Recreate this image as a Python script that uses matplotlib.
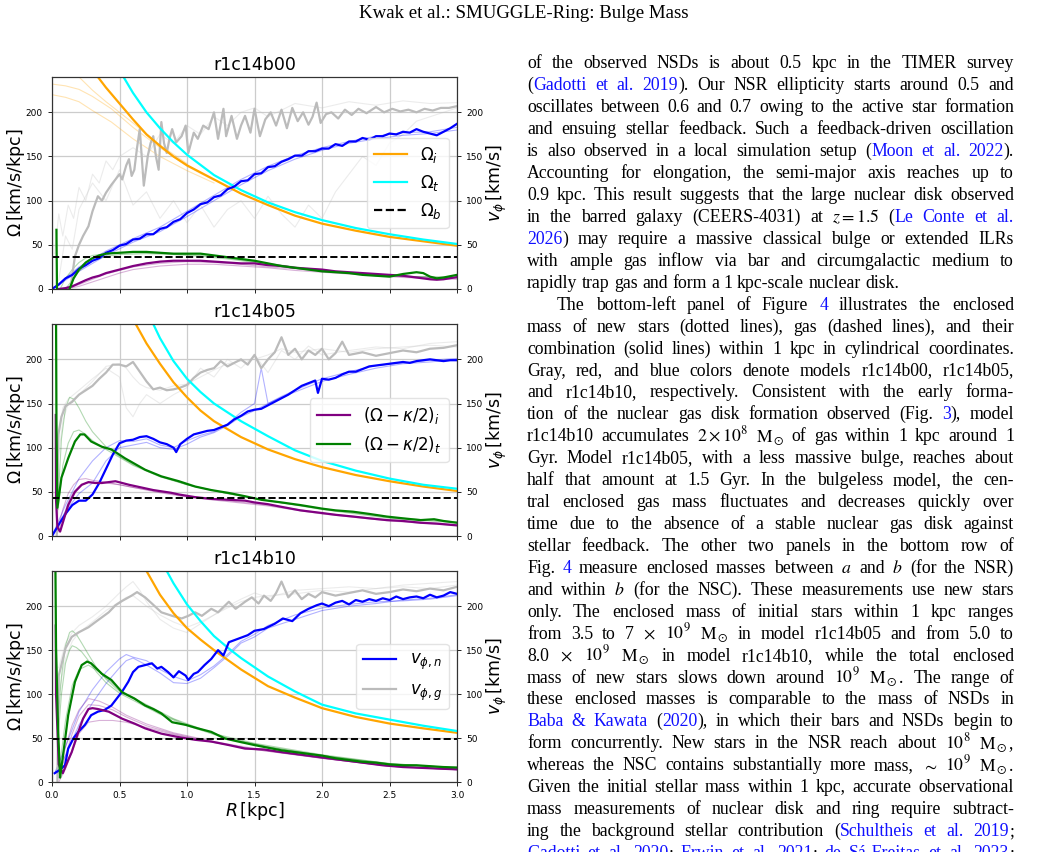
import numpy as np
import matplotlib.pyplot as plt
from matplotlib.lines import Line2D

# ---------------- panel 1 : r1c14b00 ----------------
p1_oi_r = [0.34, 0.4, 0.5, 0.6, 0.7, 0.8, 0.9, 1.0, 1.2, 1.4, 1.6, 1.8, 2.0, 2.25, 2.5, 2.75, 3.0]
p1_oi = [240, 228, 210, 192, 175, 162, 150, 140, 124, 108, 95, 83, 74, 66, 59, 54, 49]
p1_ot_r = [0.53, 0.6, 0.7, 0.8, 0.9, 1.0, 1.2, 1.4, 1.6, 1.8, 2.0, 2.25, 2.5, 2.75, 3.0]
p1_ot = [240, 222, 200, 182, 166, 152, 129, 112, 98, 87, 78, 69, 62, 56, 51]
p1_oi_f1_r = [0.0, 0.1, 0.2, 0.3, 0.44, 0.6, 0.8, 1.0, 1.2]
p1_oi_f1 = [232, 230, 226, 218, 204, 183, 160, 139, 123]
p1_oi_f2_r = [0.0, 0.1, 0.2, 0.3, 0.44, 0.6, 0.8, 1.0, 1.2]
p1_oi_f2 = [220, 217, 212, 202, 189, 170, 150, 134, 120]
p1_oi_f3_r = [0.2, 0.3, 0.4, 0.5, 0.6, 0.8, 1.0]
p1_oi_f3 = [240, 225, 212, 200, 188, 163, 142]
p1_omb = 36.5

p1_vn_r = [0.0, 0.05, 0.1, 0.15, 0.2, 0.25, 0.3, 0.35, 0.4, 0.45, 0.5, 0.55, 0.6, 0.65, 0.7,
           0.75, 0.8, 0.85, 0.9, 0.95, 1.0, 1.05, 1.1, 1.15, 1.2, 1.25, 1.3, 1.35, 1.4, 1.45,
           1.5, 1.55, 1.6, 1.65, 1.7, 1.75, 1.8, 1.85, 1.9, 1.95, 2.0, 2.05, 2.1, 2.15, 2.2,
           2.25, 2.3, 2.35, 2.4, 2.45, 2.5, 2.55, 2.6, 2.65, 2.7, 2.75, 2.8, 2.85, 2.9, 2.95, 3.0]
p1_vn = [0, 5, 12, 16, 23, 27, 32, 35, 41, 44, 49, 51, 56, 57, 62, 62, 68, 70, 76, 79, 86, 90,
         96, 98, 104, 106, 113, 116, 122, 123, 130, 131, 138, 139, 144, 147, 151, 151, 156, 156,
         159, 159, 164, 162, 167, 167, 171, 169, 173, 173, 176, 175, 178, 177, 181, 178, 176,
         174, 178, 182, 187]
p1_vg_r = [0.14, 0.17, 0.2, 0.23, 0.27, 0.3, 0.34, 0.37, 0.4, 0.44, 0.47, 0.5, 0.52, 0.55, 0.57,
           0.59, 0.61, 0.63, 0.65, 0.68, 0.71, 0.73, 0.75, 0.77, 0.79, 0.81, 0.83, 0.85, 0.87,
           0.89, 0.92, 0.96, 0.99, 1.01, 1.05, 1.08, 1.12, 1.16, 1.2, 1.23, 1.27, 1.29, 1.33,
           1.37, 1.4, 1.43, 1.47, 1.5, 1.54, 1.58, 1.62, 1.66, 1.7, 1.74, 1.78, 1.82, 1.86, 1.9,
           1.93, 1.96, 1.99, 2.03, 2.07, 2.12, 2.17, 2.22, 2.27, 2.33, 2.4, 2.46, 2.52, 2.58,
           2.64, 2.7, 2.76, 2.82, 2.88, 2.94, 3.0]
p1_vg = [5, 37, 50, 60, 71, 88, 105, 100, 109, 118, 124, 130, 124, 140, 147, 128, 135, 160, 181,
         117, 151, 165, 173, 150, 135, 189, 165, 154, 170, 181, 166, 173, 185, 154, 177, 170, 185,
         181, 200, 170, 204, 173, 196, 170, 185, 196, 177, 204, 173, 192, 200, 185, 203, 182, 205,
         190, 200, 186, 195, 211, 188, 198, 200, 193, 203, 197, 204, 199, 206, 200, 204, 201, 203,
         200, 204, 202, 205, 205, 207]
p1_vn_f1 = [0, 25, 43, 57, 70, 88, 106, 124, 139, 151, 160, 167, 173, 177, 178, 183]
p1_vn_f2 = [0, 20, 38, 53, 65, 82, 100, 118, 134, 147, 157, 165, 170, 174, 176, 180]
p1_vn_f_r = [0, 0.2, 0.4, 0.6, 0.8, 1.0, 1.2, 1.4, 1.6, 1.8, 2.0, 2.2, 2.4, 2.6, 2.8, 3.0]
p1_vg_f1_r = [0.02, 0.05, 0.08, 0.12, 0.16, 0.2, 0.25, 0.3, 0.35, 0.4, 0.45, 0.5, 0.6, 0.7, 0.8,
              0.9, 1.0, 1.1, 1.2, 1.3, 1.4, 1.5, 1.6, 1.8, 2.0, 2.2, 2.4, 2.6, 2.8, 3.0]
p1_vg_f1 = [40, 85, 60, 95, 80, 115, 100, 130, 120, 145, 135, 150, 160, 150, 175, 165, 185, 175,
            195, 185, 200, 205, 195, 210, 205, 212, 208, 213, 210, 211]
p1_vg_f2_r = [0.05, 0.1, 0.15, 0.2, 0.3, 0.4, 0.5, 0.6, 0.7, 0.8, 0.9, 1.0, 1.1, 1.2, 1.3, 1.4,
              1.5, 1.6, 1.7, 1.8, 1.9, 2.0, 2.1, 2.2, 2.3, 2.4, 2.5, 2.6, 2.7, 2.8, 2.9, 3.0]
p1_vg_f2 = [10, 60, 45, 90, 120, 100, 135, 95, 110, 80, 100, 75, 95, 70, 90, 100, 80, 105, 85, 70,
            95, 80, 110, 130, 150, 140, 165, 175, 190, 195, 200, 205]

p1_kt_r = [0.033, 0.037, 0.045, 0.12, 0.13, 0.16, 0.2, 0.25, 0.3, 0.35, 0.4, 0.5, 0.6, 0.7, 0.8,
           0.9, 1.0, 1.1, 1.2, 1.3, 1.4, 1.5, 1.6, 1.7, 1.8, 1.9, 2.0, 2.1, 2.2, 2.3, 2.4, 2.5,
           2.6, 2.7, 2.75, 2.8, 2.85, 2.9, 3.0]
p1_kt = [67, 0, -30, -30, 0, 12, 22, 30, 35, 38, 40, 41, 42, 42, 41, 40, 40, 40, 38, 36, 34, 32,
         29, 26, 24, 22, 20, 19, 18, 16, 15, 14, 17, 19, 18, 14, 12, 13, 16]
p1_ki_r = [0.05, 0.1, 0.15, 0.2, 0.25, 0.3, 0.35, 0.4, 0.45, 0.5, 0.6, 0.7, 0.8, 0.9, 1.0, 1.1,
           1.2, 1.3, 1.4, 1.5, 1.6, 1.7, 1.8, 1.9, 2.0, 2.1, 2.2, 2.3, 2.4, 2.5, 2.6, 2.7, 2.8,
           2.85, 2.9, 3.0]
p1_ki = [0, 1, 3, 6.5, 10, 13, 15, 18, 20, 22, 26, 29, 31, 32, 32, 32, 31, 30, 29, 29, 27, 26, 24,
         23, 22, 20, 19, 18, 17, 16, 15, 13, 11, 10.5, 11, 13.5]
p1_kt_f1_r = [0.06, 0.1, 0.15, 0.2, 0.25, 0.3, 0.4, 0.5, 0.7, 0.9, 1.1, 1.3, 1.5, 1.8, 2.1, 2.4, 2.7, 3.0]
p1_kt_f1 = [0, 12, 22, 30, 35, 38, 40, 41, 41, 40, 38, 35, 31, 25, 20, 16, 14, 13]
p1_kt_f2_r = [0.1, 0.15, 0.2, 0.25, 0.3, 0.4, 0.5, 0.7, 0.9, 1.1, 1.3, 1.5, 1.8, 2.1, 2.4, 2.7, 3.0]
p1_kt_f2 = [0, 10, 20, 27, 32, 37, 39, 40, 39, 37, 34, 30, 24, 19, 16, 14, 13]
p1_ki_f_r = [0.1, 0.2, 0.3, 0.4, 0.5, 0.6, 0.8, 1.0, 1.2, 1.4, 1.6, 1.8, 2.0, 2.3, 2.6, 3.0]
p1_ki_f1 = [0, 3, 8, 13, 18, 22, 26, 28, 28, 26, 24, 21, 19, 16, 13, 11]
p1_ki_f2 = [0, 5, 11, 17, 21, 25, 29, 31, 30, 28, 25, 23, 20, 17, 14, 12]

# ---------------- panel 2 : r1c14b05 ----------------
p2_oi_r = [0.62, 0.7, 0.8, 0.9, 1.0, 1.1, 1.2, 1.4, 1.6, 1.8, 2.0, 2.25, 2.5, 2.75, 3.0]
p2_oi = [240, 218, 195, 174, 157, 142, 130, 112, 98, 87, 78, 69, 62, 56, 51]
p2_ot_r = [0.75, 0.8, 0.9, 1.0, 1.1, 1.2, 1.4, 1.6, 1.8, 2.0, 2.25, 2.5, 2.75, 3.0]
p2_ot = [240, 224, 198, 178, 163, 150, 130, 113, 97, 85, 74, 65, 58, 53.5]
p2_omb = 42.5

p2_vn_r = [0.0, 0.05, 0.1, 0.15, 0.2, 0.25, 0.3, 0.35, 0.4, 0.45, 0.5, 0.55, 0.6, 0.65, 0.7, 0.75,
           0.8, 0.85, 0.9, 0.92, 0.95, 1.0, 1.05, 1.1, 1.15, 1.2, 1.25, 1.3, 1.35, 1.4, 1.45, 1.5,
           1.55, 1.6, 1.65, 1.7, 1.75, 1.8, 1.85, 1.9, 1.95, 1.97, 2.0, 2.05, 2.1, 2.15, 2.2, 2.25,
           2.3, 2.35, 2.4, 2.45, 2.5, 2.55, 2.6, 2.65, 2.7, 2.75, 2.8, 2.85, 2.9, 2.95, 3.0]
p2_vn = [0, 13, 25, 35, 40, 40, 47, 60, 76, 92, 105, 108, 109, 112, 113, 110, 106, 104, 100, 95,
         104, 110, 115, 117, 119, 120, 123, 126, 132, 136, 141, 143, 144, 148, 152, 156, 160, 165,
         170, 173, 176, 162, 178, 177, 179, 183, 186, 186, 189, 192, 193, 194, 195, 196, 197, 196,
         198, 199, 200, 199, 198, 199, 199]
p2_vg_r = [0.035, 0.047, 0.07, 0.1, 0.15, 0.2, 0.25, 0.3, 0.35, 0.4, 0.45, 0.5, 0.55, 0.6, 0.65,
           0.7, 0.75, 0.8, 0.85, 0.9, 0.95, 1.0, 1.05, 1.1, 1.15, 1.2, 1.25, 1.3, 1.35, 1.4, 1.45,
           1.5, 1.55, 1.6, 1.65, 1.7, 1.75, 1.8, 1.85, 1.9, 1.95, 2.0, 2.05, 2.1, 2.15, 2.2, 2.3,
           2.4, 2.5, 2.6, 2.7, 2.8, 2.9, 3.0]
p2_vg = [0, 115, 135, 147, 152, 160, 165, 170, 178, 185, 194, 194, 192, 197, 186, 175, 166, 168,
         165, 166, 168, 171, 179, 185, 188, 190, 198, 192, 196, 200, 194, 205, 190, 200, 208, 225,
         205, 212, 200, 210, 205, 212, 200, 207, 220, 205, 208, 204, 207, 210, 208, 212, 213, 216]
p2_vn_f_r = [0, 0.1, 0.2, 0.3, 0.4, 0.5, 0.6, 0.7, 0.8, 0.9, 1.0, 1.1, 1.2, 1.3, 1.4, 1.5, 1.55,
             1.6, 1.7, 1.8, 2.0, 2.2, 2.4, 2.6, 2.8, 3.0]
p2_vn_f1 = [0, 35, 65, 85, 100, 108, 107, 110, 103, 100, 108, 114, 118, 127, 140, 150, 190, 150,
            158, 165, 178, 186, 193, 196, 199, 201]
p2_vn_f2 = [0, 28, 48, 60, 85, 100, 103, 106, 100, 98, 104, 112, 117, 125, 135, 142, 146, 150,
            157, 163, 175, 183, 190, 195, 197, 200]
p2_vg_f_r = [0.04, 0.08, 0.12, 0.2, 0.3, 0.4, 0.5, 0.55, 0.6, 0.65, 0.7, 0.8, 0.9, 1.0, 1.1, 1.2,
             1.3, 1.4, 1.5, 1.6, 1.7, 1.8, 1.9, 2.0, 2.2, 2.4, 2.6, 2.8, 3.0]
p2_vg_f1 = [100, 145, 155, 165, 178, 190, 180, 145, 135, 150, 160, 150, 160, 168, 190, 180, 200,
            190, 205, 185, 210, 200, 215, 205, 210, 214, 212, 218, 220]
p2_vg_f2 = [80, 130, 150, 160, 175, 192, 195, 190, 180, 172, 168, 165, 170, 172, 180, 188, 195,
            198, 200, 205, 212, 208, 210, 212, 208, 212, 214, 216, 214]

p2_kt_r = [0.03, 0.033, 0.04, 0.07, 0.12, 0.17, 0.21, 0.24, 0.29, 0.37, 0.44, 0.54, 0.69, 0.81,
           0.94, 1.06, 1.18, 1.31, 1.43, 1.55, 1.7, 1.84, 2.0, 2.1, 2.23, 2.35, 2.48, 2.6, 2.73,
           2.83, 2.9, 3.0]
p2_kt = [245, 130, 32, 66, 88, 107, 115, 115, 107, 101, 98, 88, 75, 67.5, 62, 56, 52, 48.7, 45,
         41, 38, 35, 31, 29, 27.5, 25, 22, 20, 18, 19, 17, 15]
p2_ki_r = [0.028, 0.03, 0.04, 0.06, 0.09, 0.12, 0.17, 0.22, 0.27, 0.32, 0.37, 0.42, 0.47, 0.52,
           0.57, 0.63, 0.69, 0.75, 0.81, 0.88, 0.94, 1.0, 1.06, 1.12, 1.18, 1.25, 1.31, 1.37, 1.43,
           1.5, 1.6, 1.7, 1.84, 2.0, 2.1, 2.23, 2.35, 2.48, 2.6, 2.73, 2.85, 3.0]
p2_ki = [137, 40, 10, 5, 20, 35, 50, 58, 61, 60, 60, 61, 62, 60, 58, 56, 54, 52, 50.6, 49, 47,
         45.5, 44, 43, 42, 41.5, 41, 40.5, 40, 38, 36, 33, 29, 26, 24, 22, 20, 18, 17, 15, 14, 12]
p2_kt_f1_r = [0.045, 0.07, 0.1, 0.13, 0.16, 0.2, 0.25, 0.3, 0.4, 0.5, 0.6, 0.8, 1.0, 1.3, 1.6,
              2.0, 2.5, 3.0]
p2_kt_f1 = [40, 110, 145, 157, 155, 145, 130, 118, 101, 90, 81, 68, 58, 48, 40, 30, 20, 15]
p2_kt_f2_r = [0.045, 0.08, 0.12, 0.16, 0.2, 0.25, 0.3, 0.4, 0.5, 0.6, 0.8, 1.0, 1.3, 1.6, 2.0,
              2.5, 3.0]
p2_kt_f2 = [30, 80, 105, 118, 120, 115, 108, 98, 89, 80, 67, 58, 48, 40, 31, 21, 16]
p2_ki_f_r = [0.04, 0.08, 0.12, 0.16, 0.2, 0.25, 0.3, 0.4, 0.5, 0.6, 0.8, 1.0, 1.3, 1.6, 2.0, 2.5, 3.0]
p2_ki_f1 = [5, 30, 48, 58, 64, 65, 63, 61, 58, 55, 50, 45, 40, 35, 26, 18, 13]
p2_ki_f2 = [3, 20, 38, 50, 56, 60, 61, 60, 58, 55, 49, 44, 39, 34, 25, 17, 12]

# ---------------- panel 3 : r1c14b10 ----------------
p3_oi_r = [0.7, 0.8, 0.9, 1.0, 1.1, 1.2, 1.4, 1.6, 1.8, 2.0, 2.25, 2.5, 2.75, 3.0]
p3_oi = [240, 213, 192, 175, 162, 150, 128, 109, 96, 84, 74, 66.5, 61, 56]
p3_ot_r = [0.85, 0.9, 1.0, 1.1, 1.2, 1.3, 1.4, 1.6, 1.8, 2.0, 2.25, 2.5, 2.75, 3.0]
p3_ot = [240, 226, 202, 183, 166, 153, 141, 120, 103, 88, 78, 71, 64, 58]
p3_omb = 49

p3_vn_r = [0.02, 0.06, 0.096, 0.12, 0.16, 0.195, 0.244, 0.29, 0.34, 0.39, 0.44, 0.48, 0.52, 0.565,
           0.6, 0.64, 0.69, 0.74, 0.78, 0.81, 0.86, 0.9, 0.94, 0.99, 1.01, 1.05, 1.08, 1.13, 1.18,
           1.23, 1.27, 1.31, 1.38, 1.45, 1.5, 1.57, 1.65, 1.71, 1.78, 1.84, 1.9, 1.96, 2.0, 2.05,
           2.1, 2.15, 2.2, 2.25, 2.3, 2.35, 2.4, 2.45, 2.5, 2.55, 2.6, 2.65, 2.7, 2.75, 2.8, 2.85,
           2.9, 2.95, 3.0]
p3_vn = [10, 14, 19, 38, 50, 57, 65, 76, 80, 82, 87, 95, 103, 114, 125, 131, 133, 135, 129, 131,
         125, 119, 126, 121, 116, 123, 125, 133, 140, 150, 144, 159, 163, 167, 172, 174, 180, 186,
         183, 192, 197, 201, 203, 200, 204, 206, 202, 207, 205, 208, 206, 209, 207, 211, 208, 210,
         211, 209, 213, 210, 212, 216, 214]
p3_vg_r = [0.04, 0.05, 0.1, 0.146, 0.195, 0.27, 0.34, 0.42, 0.47, 0.52, 0.59, 0.63, 0.69, 0.74,
           0.81, 0.89, 0.96, 1.01, 1.06, 1.11, 1.18, 1.23, 1.31, 1.36, 1.43, 1.48, 1.53, 1.57, 1.62,
           1.66, 1.7, 1.75, 1.8, 1.85, 1.9, 1.95, 2.0, 2.1, 2.2, 2.3, 2.4, 2.5, 2.6, 2.7, 2.8, 2.9, 3.0]
p3_vg = [0, 121, 152, 165, 170, 176, 184, 193, 201, 206, 212, 216, 210, 203, 193, 189, 186, 189,
         193, 189, 197, 193, 205, 197, 205, 210, 203, 212, 206, 215, 228, 210, 218, 208, 214, 210,
         216, 212, 215, 218, 214, 216, 219, 217, 220, 218, 222]
p3_vn_f_r = [0.02, 0.1, 0.2, 0.3, 0.4, 0.5, 0.55, 0.6, 0.65, 0.7, 0.8, 0.9, 1.0, 1.1, 1.2, 1.3,
             1.4, 1.5, 1.6, 1.8, 2.0, 2.2, 2.4, 2.6, 2.8, 3.0]
p3_vn_f1 = [10, 40, 80, 105, 125, 140, 145, 142, 140, 138, 128, 120, 115, 122, 132, 145, 160, 168,
            178, 190, 198, 202, 205, 206, 208, 212]
p3_vn_f2 = [10, 30, 65, 90, 112, 130, 138, 141, 137, 133, 124, 113, 112, 118, 130, 143, 158, 165,
            175, 185, 195, 200, 203, 207, 209, 213]
p3_vg_f_r = [0.05, 0.1, 0.15, 0.2, 0.3, 0.4, 0.5, 0.55, 0.6, 0.65, 0.7, 0.8, 0.9, 1.0, 1.1, 1.2,
             1.3, 1.4, 1.5, 1.6, 1.8, 2.0, 2.2, 2.4, 2.6, 2.8, 3.0]
p3_vg_f1 = [130, 158, 170, 178, 188, 200, 215, 222, 228, 218, 205, 185, 175, 170, 180, 190, 200,
            208, 215, 210, 218, 220, 222, 220, 224, 226, 228]
p3_vg_f2 = [100, 140, 160, 170, 182, 195, 205, 210, 212, 206, 200, 190, 182, 176, 182, 190, 198,
            205, 210, 212, 214, 218, 216, 220, 222, 220, 224]

p3_kt_r = [0.025, 0.03, 0.045, 0.06, 0.09, 0.12, 0.17, 0.22, 0.26, 0.29, 0.33, 0.37, 0.44, 0.52,
           0.61, 0.69, 0.75, 0.81, 0.89, 0.99, 1.08, 1.18, 1.28, 1.38, 1.5, 1.6, 1.7, 1.8, 1.9,
           2.0, 2.1, 2.2, 2.3, 2.4, 2.5, 2.6, 2.7, 2.8, 2.9, 3.0]
p3_kt = [250, 153, 60, 5, 40, 76, 114, 133, 137, 135, 129, 123, 116, 102, 95, 87, 83, 78, 68, 65,
         61, 57, 49.5, 46, 42, 39, 36, 34, 32, 30, 27, 25, 23, 22, 20, 19, 19, 18, 17, 16.5]
p3_ki_r = [0.028, 0.03, 0.05, 0.08, 0.12, 0.146, 0.195, 0.23, 0.27, 0.3, 0.34, 0.42, 0.52, 0.61,
           0.69, 0.81, 0.94, 1.06, 1.18, 1.31, 1.43, 1.57, 1.7, 1.85, 2.0, 2.15, 2.3, 2.45, 2.6,
           2.75, 2.9, 3.0]
p3_ki = [178, 100, 20, 10, 25, 34, 57, 72, 83, 84, 83, 80, 72, 66.5, 61, 55, 51, 48, 46, 42, 38,
         37, 34, 31, 28, 25, 22, 19, 17, 16, 15, 14.4]
p3_kt_f_r = [0.04, 0.07, 0.1, 0.13, 0.15, 0.18, 0.22, 0.27, 0.33, 0.4, 0.5, 0.6, 0.8, 1.0, 1.3,
             1.6, 2.0, 2.5, 3.0]
p3_kt_f1 = [60, 120, 155, 170, 172, 168, 158, 145, 130, 117, 103, 95, 78, 65, 50, 40, 30, 20, 16]
p3_kt_f2 = [40, 100, 135, 150, 155, 153, 148, 138, 125, 113, 101, 93, 77, 64, 49, 40, 30, 21, 16]
p3_k_f_r = [0.05, 0.1, 0.15, 0.2, 0.27, 0.35, 0.45, 0.55, 0.7, 0.9, 1.2, 1.5, 2.0, 2.5, 3.0]
p3_kt_f3 = [10, 70, 110, 128, 133, 125, 112, 100, 88, 72, 55, 44, 31, 21, 16]
p3_ki_f1 = [5, 40, 65, 82, 95, 92, 85, 76, 66, 56, 46, 38, 27, 18, 14]
p3_ki_f2 = [5, 30, 55, 75, 88, 87, 82, 74, 64, 55, 45, 37, 27, 18, 14]
p3_ki_f3 = [0, 15, 35, 55, 68, 70, 70, 68, 62, 54, 45, 37, 27, 18, 14]

titles = ['r1c14b00', 'r1c14b05', 'r1c14b10']
y_ticks = [0, 50, 100, 150, 200]
x_ticks = [0.0, 0.5, 1.0, 1.5, 2.0, 2.5, 3.0]

# ---------------- page text ----------------
header = 'Kwak et al.: SMUGGLE-Ring: Bulge Mass'
body_lines = [
    'of the observed NSDs is about 0.5 kpc in the TIMER survey',
    '(<Gadotti et al. 2019>). Our NSR ellipticity starts around 0.5 and',
    'oscillates between 0.6 and 0.7 owing to the active star formation',
    'and ensuing stellar feedback. Such a feedback-driven oscillation',
    'is also observed in a local simulation setup (<Moon et al. 2022>).',
    'Accounting for elongation, the semi-major axis reaches up to',
    '0.9 kpc. This result suggests that the large nuclear disk observed',
    'in the barred galaxy (CEERS-4031) at $z=1.5$ (<Le Conte et al.>',
    '<2026>) may require a massive classical bulge or extended ILRs',
    'with ample gas inflow via bar and circumgalactic medium to',
    'rapidly trap gas and form a 1 kpc-scale nuclear disk.',
    'The bottom-left panel of Figure <4> illustrates the enclosed',
    'mass of new stars (dotted lines), gas (dashed lines), and their',
    'combination (solid lines) within 1 kpc in cylindrical coordinates.',
    'Gray, red, and blue colors denote models r1c14b00, r1c14b05,',
    'and r1c14b10, respectively. Consistent with the early forma-',
    'tion of the nuclear gas disk formation observed (Fig. <3>), model',
    r'r1c14b10 accumulates $2\times10^8$ $\mathrm{M}_\odot$ of gas within 1 kpc around 1',
    'Gyr. Model r1c14b05, with a less massive bulge, reaches about',
    'half that amount at 1.5 Gyr. In the bulgeless model, the cen-',
    'tral enclosed gas mass fluctuates and decreases quickly over',
    'time due to the absence of a stable nuclear gas disk against',
    'stellar feedback. The other two panels in the bottom row of',
    'Fig. <4> measure enclosed masses between $a$ and $b$ (for the NSR)',
    'and within $b$ (for the NSC). These measurements use new stars',
    'only. The enclosed mass of initial stars within 1 kpc ranges',
    r'from 3.5 to 7 $\times$ $10^9$ $\mathrm{M}_\odot$ in model r1c14b05 and from 5.0 to',
    r'8.0 $\times$ $10^9$ $\mathrm{M}_\odot$ in model r1c14b10, while the total enclosed',
    r'mass of new stars slows down around $10^9$ $\mathrm{M}_\odot$. The range of',
    'these enclosed masses is comparable to the mass of NSDs in',
    '<Baba & Kawata> (<2020>), in which their bars and NSDs begin to',
    r'form concurrently. New stars in the NSR reach about $10^8$ $\mathrm{M}_\odot$,',
    r'whereas the NSC contains substantially more mass, $\sim$ $10^9$ $\mathrm{M}_\odot$.',
    'Given the initial stellar mass within 1 kpc, accurate observational',
    'mass measurements of nuclear disk and ring require subtract-',
    'ing the background stellar contribution (<Schultheis et al. 2019>;',
    '<Gadotti et al. 2020>; <Erwin et al. 2021>; <de Sá-Freitas et al. 2023>;',
]
indent_rows = [11]
ragged_rows = [10]

W, H = 1046, 852
fig = plt.figure(figsize=(W / 100, H / 100), dpi=100)

panels = [
    dict(oi=(p1_oi_r, p1_oi), ot=(p1_ot_r, p1_ot), omb=p1_omb,
         vn=(p1_vn_r, p1_vn), vg=(p1_vg_r, p1_vg), kt=(p1_kt_r, p1_kt), ki=(p1_ki_r, p1_ki),
         faint=[('orange', p1_oi_f1_r, p1_oi_f1), ('orange', p1_oi_f2_r, p1_oi_f2),
                ('orange', p1_oi_f3_r, p1_oi_f3),
                ('silver', p1_vg_f1_r, p1_vg_f1), ('silver', p1_vg_f2_r, p1_vg_f2),
                ('blue', p1_vn_f_r, p1_vn_f1), ('blue', p1_vn_f_r, p1_vn_f2),
                ('green', p1_kt_f1_r, p1_kt_f1), ('green', p1_kt_f2_r, p1_kt_f2),
                ('purple', p1_ki_f_r, p1_ki_f1), ('purple', p1_ki_f_r, p1_ki_f2)]),
    dict(oi=(p2_oi_r, p2_oi), ot=(p2_ot_r, p2_ot), omb=p2_omb,
         vn=(p2_vn_r, p2_vn), vg=(p2_vg_r, p2_vg), kt=(p2_kt_r, p2_kt), ki=(p2_ki_r, p2_ki),
         faint=[('silver', p2_vg_f_r, p2_vg_f1), ('silver', p2_vg_f_r, p2_vg_f2),
                ('blue', p2_vn_f_r, p2_vn_f1), ('blue', p2_vn_f_r, p2_vn_f2),
                ('green', p2_kt_f1_r, p2_kt_f1), ('green', p2_kt_f2_r, p2_kt_f2),
                ('purple', p2_ki_f_r, p2_ki_f1), ('purple', p2_ki_f_r, p2_ki_f2)]),
    dict(oi=(p3_oi_r, p3_oi), ot=(p3_ot_r, p3_ot), omb=p3_omb,
         vn=(p3_vn_r, p3_vn), vg=(p3_vg_r, p3_vg), kt=(p3_kt_r, p3_kt), ki=(p3_ki_r, p3_ki),
         faint=[('silver', p3_vg_f_r, p3_vg_f1), ('silver', p3_vg_f_r, p3_vg_f2),
                ('blue', p3_vn_f_r, p3_vn_f1), ('blue', p3_vn_f_r, p3_vn_f2),
                ('green', p3_kt_f_r, p3_kt_f1), ('green', p3_kt_f_r, p3_kt_f2),
                ('green', p3_k_f_r, p3_kt_f3),
                ('purple', p3_k_f_r, p3_ki_f1), ('purple', p3_k_f_r, p3_ki_f2),
                ('purple', p3_k_f_r, p3_ki_f3)]),
]

# axes boxes in pixels: left, top, right, bottom
boxes = [(52, 77, 457, 289), (52, 324, 457, 536), (52, 571, 457, 782)]

legend_sets = [
    [Line2D([], [], color='orange', lw=1.6, label=r'$\Omega_i$'),
     Line2D([], [], color='cyan', lw=1.6, label=r'$\Omega_t$'),
     Line2D([], [], color='k', lw=1.6, ls='--', label=r'$\Omega_b$')],
    [Line2D([], [], color='purple', lw=1.6, label=r'$(\Omega-\kappa/2)_i$'),
     Line2D([], [], color='green', lw=1.6, label=r'$(\Omega-\kappa/2)_t$')],
    [Line2D([], [], color='blue', lw=1.6, label=r'$v_{\phi,n}$'),
     Line2D([], [], color='#bbbbbb', lw=1.6, label=r'$v_{\phi,g}$')],
]

for i, (d, box) in enumerate(zip(panels, boxes)):
    l, t, r, b = box
    ax = fig.add_axes([l / W, 1 - b / H, (r - l) / W, (b - t) / H])
    ax.grid(True, color='#cccccc', lw=0.9)
    for c, xr, yv in d['faint']:
        ax.plot(xr, yv, color=c, lw=0.8, alpha=0.3)
    ax.plot(*d['vg'], color='#bbbbbb', lw=1.6)
    ax.plot(*d['oi'], color='orange', lw=1.6)
    ax.plot(*d['ot'], color='cyan', lw=1.6)
    ax.plot(*d['vn'], color='blue', lw=1.6)
    ax.plot(*d['ki'], color='purple', lw=1.6)
    ax.plot(*d['kt'], color='green', lw=1.6)
    ax.axhline(d['omb'], color='k', ls='--', lw=1.4)
    ax.set_xlim(0, 3)
    ax.set_ylim(0, 240)
    ax.set_xticks(x_ticks)
    ax.set_yticks(y_ticks)
    ax.tick_params(labelsize=6.5, length=3, width=0.6)
    ax.set_title(titles[i], fontsize=12.5, pad=5)
    ax.set_ylabel(r'$\Omega\,[\mathrm{km/s/kpc}]$', fontsize=12.5, labelpad=-1)
    if i < 2:
        ax.tick_params(labelbottom=False)
    else:
        ax.set_xticklabels(['%.1f' % v for v in x_ticks])
        ax.set_xlabel(r'$R\,[\mathrm{kpc}]$', fontsize=12.5, labelpad=0)
    ax2 = ax.twinx()
    ax2.set_ylim(0, 240)
    ax2.set_yticks(y_ticks)
    ax2.tick_params(labelsize=6.5, length=3, width=0.6)
    ax2.set_ylabel(r'$v_\phi\,[\mathrm{km/s}]$', fontsize=12.5, labelpad=1)
    for a in (ax, ax2):
        for s in a.spines.values():
            s.set_linewidth(0.8)
            s.set_color('#333333')
    ax2.legend(handles=legend_sets[i], loc='center right', fontsize=12,
               framealpha=0.8, edgecolor='#dddddd')

# ---------------- justified text column ----------------
fig.text(524 / W, 1 - 14 / H, header, ha='center', va='center',
         family='Liberation Serif', fontsize=13.6)

col_left, col_right = 527, 1014
indent = 30
base0, lead = 68.5, 21.93
fs = 12.8
renderer = fig.canvas.get_renderer()


def split_words(line):
    words = []
    blue = False
    for raw in line.split(' '):
        segs, buf = [], ''
        for ch in raw:
            if ch in '<>':
                if buf:
                    segs.append((buf, blue))
                buf = ''
                blue = ch == '<'
            else:
                buf += ch
        if buf:
            segs.append((buf, blue))
        words.append(segs)
    return words


for row, line in enumerate(body_lines):
    y = base0 + row * lead
    x0 = col_left + (indent if row in indent_rows else 0)
    words = split_words(line)
    placed = []
    widths = []
    for segs in words:
        ws = []
        for txt, blue in segs:
            tobj = fig.text(0, 0, txt, family='Liberation Serif', fontsize=fs,
                            color='#1010ff' if blue else 'black', va='baseline',
                            math_fontfamily='stix')
            ws.append(tobj.get_window_extent(renderer).width)
            placed.append(tobj)
        widths.append(ws)
    total = sum(sum(ws) for ws in widths)
    if row in ragged_rows or len(words) < 2:
        gap = fs * 100 / 72 * 0.25
    else:
        gap = (col_right - x0 - total) / (len(words) - 1)
    x = x0
    k = 0
    for ws in widths:
        for w in ws:
            placed[k].set_position((x / W, 1 - y / H))
            x += w
            k += 1
        x += gap

fig.savefig('out.png', dpi=100)
